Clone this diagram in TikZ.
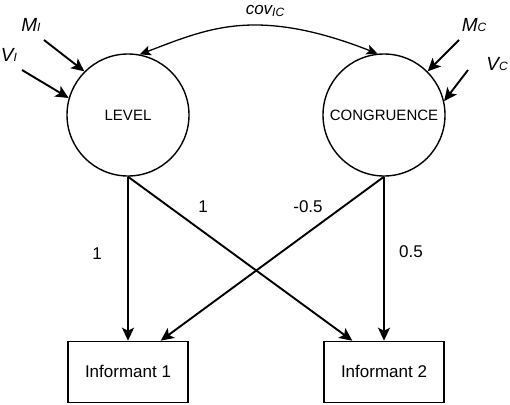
\documentclass[tikz,border=0pt]{standalone}
\usepackage{fontspec}
\setmainfont{Liberation Sans}
\usetikzlibrary{arrows.meta,positioning}

\newcommand{\smallsub}[2]{{\fontsize{12}{14}\selectfont\raisebox{-#1}{#2}}}

\begin{document}
\begin{tikzpicture}[
    x=1pt, y=-1pt,
    node distance=164pt,
    latent/.style={draw, circle, line width=1.4pt, minimum size=122pt, inner sep=0pt, font=\fontsize{15}{18}\selectfont},
    obs/.style={draw, line width=1.4pt, minimum width=120pt, minimum height=61pt, font=\fontsize{17}{20}\selectfont},
    arr/.style={-{Stealth[length=13pt, width=12pt, inset=3pt]}, line width=1.9pt},
    covarr/.style={{Stealth[length=11pt, width=10pt, inset=2.5pt]}-{Stealth[length=11pt, width=10pt, inset=2.5pt]}, line width=1.3pt},
    lbl/.style={font=\fontsize{17}{20}\selectfont},
    var/.style={font=\fontsize{19}{22}\selectfont\itshape, inner sep=0pt}
]
\useasboundingbox (0,0) rectangle (510,404);

\node[latent] (level) at (128,115) {LEVEL};
\node[latent] (congr) at (384,115) {CONGRUENCE};
\node[obs, below=164pt of level] (inf1) {Informant 1};
\node[obs, below=164pt of congr] (inf2) {Informant 2};

% variance / mean inputs
\node[var] (mi) at (31,25) {M\smallsub{0.5pt}{I}};
\node[var] (vi) at (9,55) {V\smallsub{0.5pt}{I}};
\node[var] (mc) at (474,25) {M\smallsub{0.5pt}{C}};
\node[var] (vc) at (497,64) {V\smallsub{0.5pt}{C}};
\coordinate (mi0) at (44,40);
\coordinate (vi0) at (22,70);
\coordinate (mc0) at (459,40);
\coordinate (vc0) at (468,70);
\draw[arr] (mi0) -- (level.135);
\draw[arr] (vi0) -- (level.164);
\draw[arr] (mc0) -- (congr.45);
\draw[arr] (vc0) -- (congr.13);

% covariance
\draw[covarr] (level.79) .. controls (185,37) and (215,25) .. (255,25)
    .. controls (295,25) and (335,37) .. (congr.96);
\node[lbl, font=\fontsize{17}{20}\selectfont\itshape] (cov) at (265,11) {cov\smallsub{2pt}{IC}};

% loadings
\draw[arr] (level.south) -- (inf1.north);
\draw[arr] (level.south) -- ([xshift=29pt]inf2.north west);
\draw[arr] (congr.south) -- (inf2.north);
\draw[arr] (congr.south) -- ([xshift=-28pt]inf1.north east);

\node[lbl] (l11) at (97,254) {1};
\node[lbl] (l12) at (203,207) {1};
\node[lbl] (l21) at (308,207) {-0.5};
\node[lbl] (l22) at (411,252) {0.5};
\end{tikzpicture}
\end{document}
